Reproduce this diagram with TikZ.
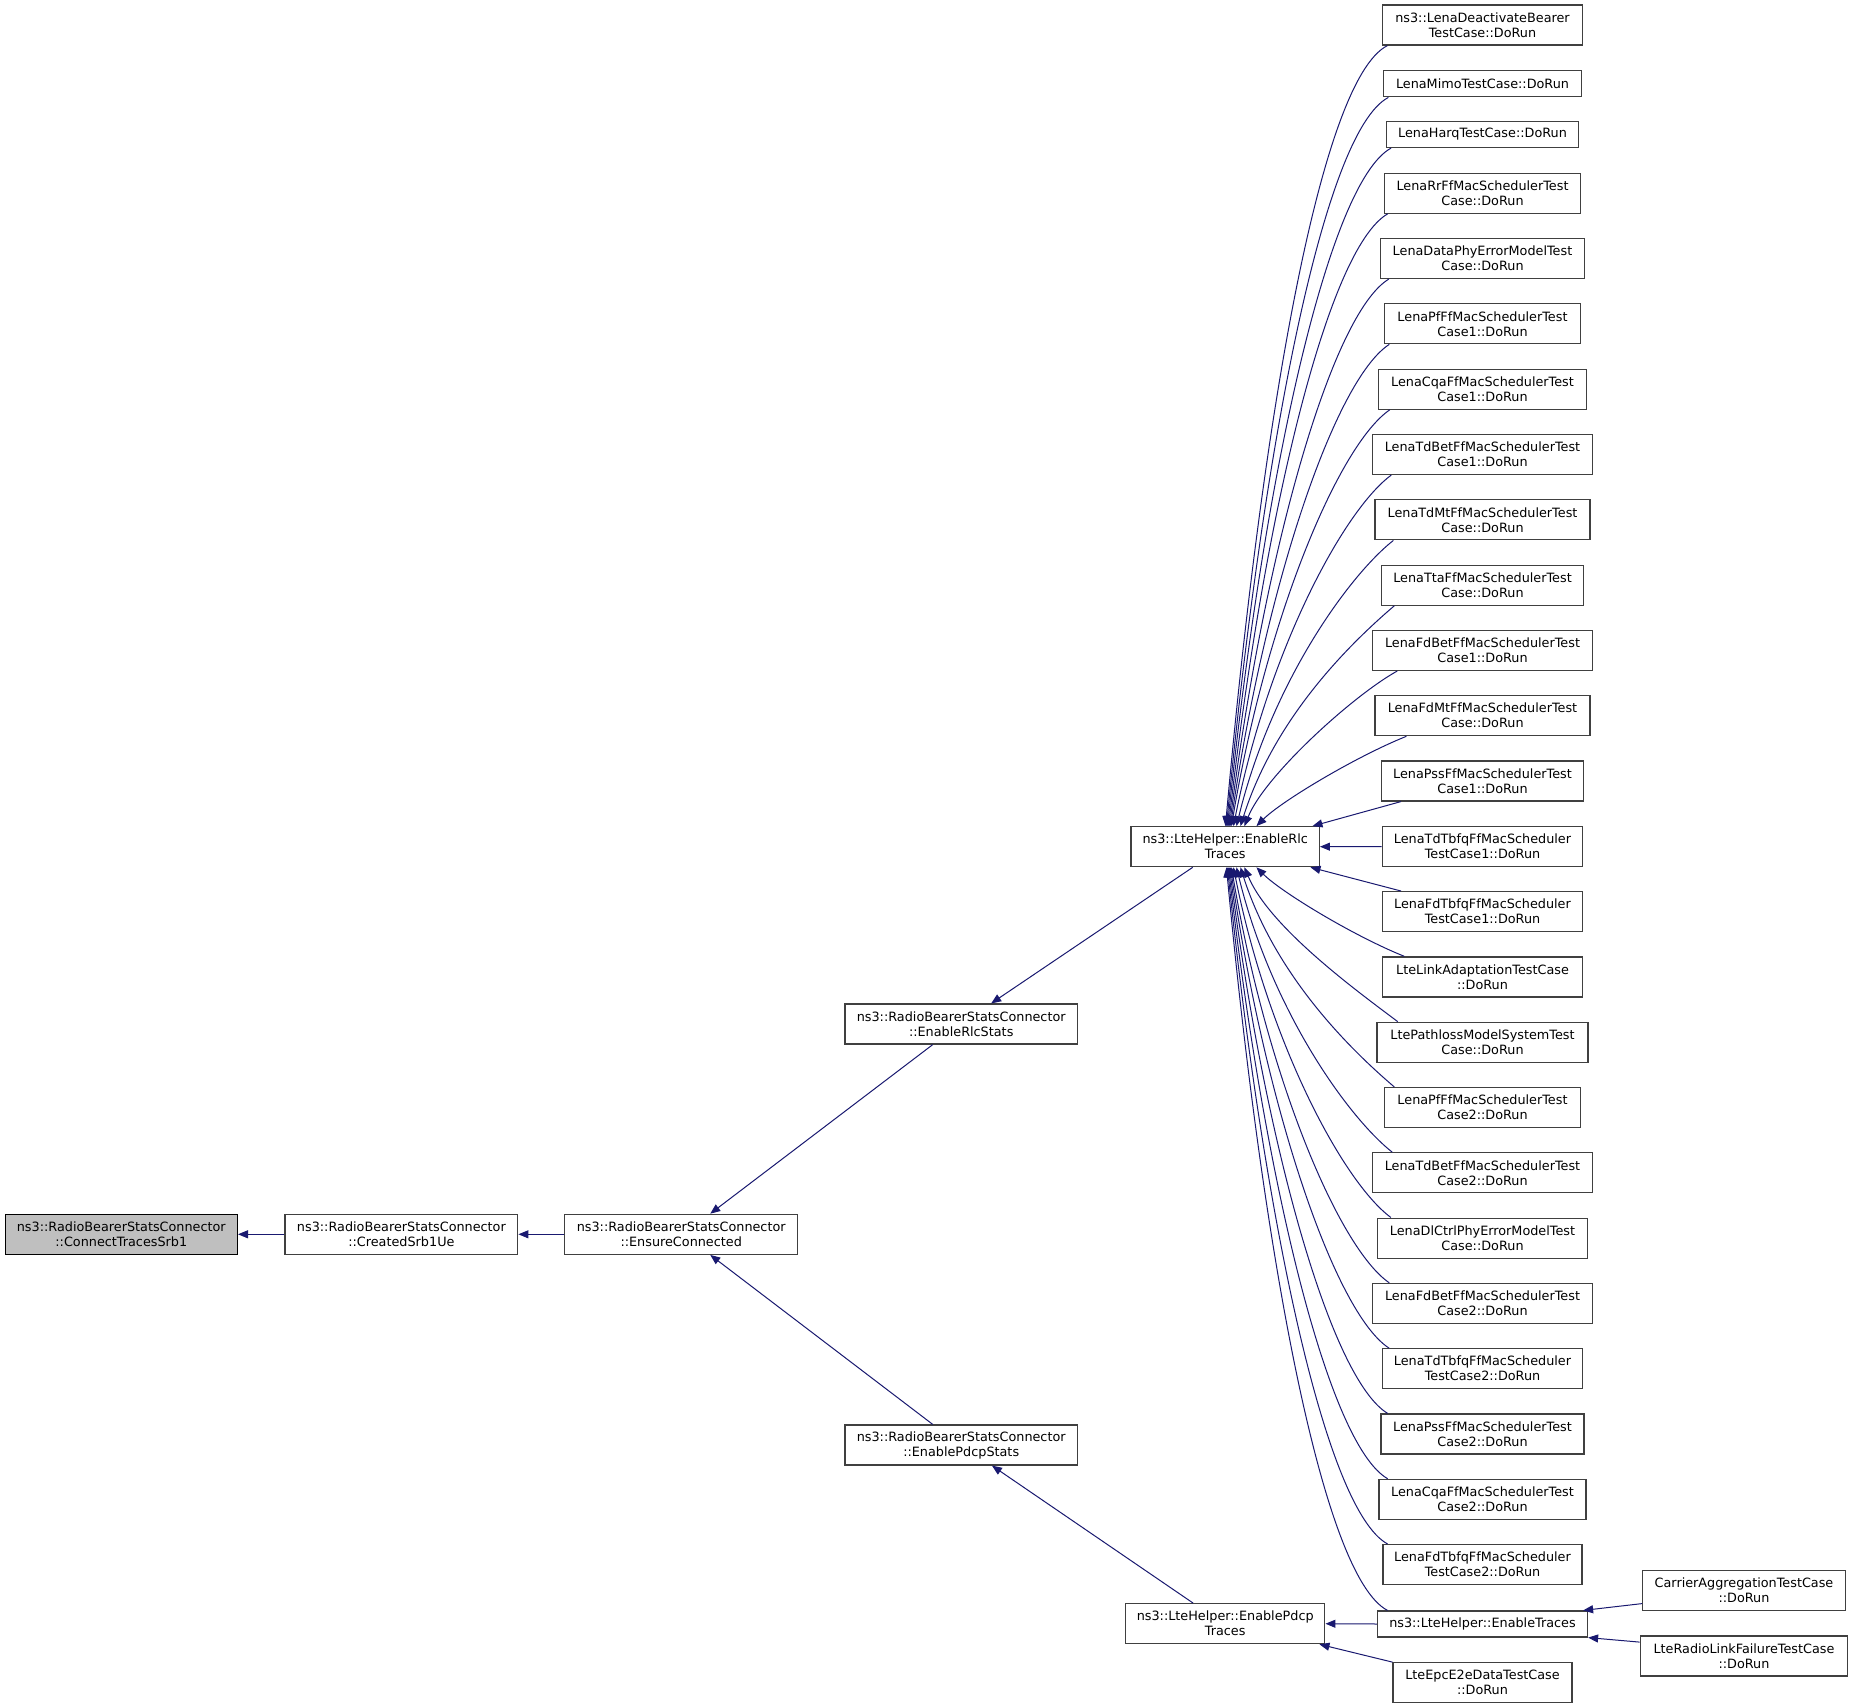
\documentclass[tikz,border=0pt]{standalone}
\usepackage{fontspec}
\setmainfont{DejaVu Sans}
\usetikzlibrary{arrows.meta,calc}
\definecolor{edgeblue}{RGB}{25,25,112}
\definecolor{boxline}{RGB}{64,64,64}
\definecolor{rootgray}{RGB}{191,191,191}
\newcommand\ucurve[5]{\draw[edge] ($(#1.south west)+(#2,0)$) .. controls +(-#3,35) and +(35,-#4) .. ($(rlc.north west)+(#5,0)$);}
\newcommand\lcurve[5]{\draw[edge] ($(#1.north west)+(#2,0)$) .. controls +(-#3,-35) and +(35,#4) .. ($(rlc.south west)+(#5,0)$);}
\begin{document}
\begin{tikzpicture}[x=0.75pt,y=-0.75pt,
  box/.style={draw=boxline, line width=0.9pt, fill=white, align=center, inner sep=0pt,
    minimum height=30pt, font=\fontsize{9.6}{11.25}\selectfont},
  sbox/.style={box, minimum height=19.5pt},
  bw/.style={minimum width=#1*0.75pt},
  edge/.style={draw=edgeblue, line width=0.75pt, -{Triangle[length=7.5pt,width=6pt]}},
]
\useasboundingbox[fill=white] (0,0) rectangle (1853,1708);

% left part
\node[box,bw=232.2,fill=rootgray,draw=black] (connect) at (121.3,1234.3) {ns3::RadioBearerStatsConnector\\::ConnectTracesSrb1};
\node[box,bw=232.8] (created) at (401.4,1234.3) {ns3::RadioBearerStatsConnector\\::CreatedSrb1Ue};
\node[box,bw=232.7] (ensure) at (681.2,1234.3) {ns3::RadioBearerStatsConnector\\::EnsureConnected};
\node[box,bw=232.3] (rlcstats) at (961.2,1024) {ns3::RadioBearerStatsConnector\\::EnableRlcStats};
\node[box,bw=232.3] (pdcpstats) at (961.2,1445) {ns3::RadioBearerStatsConnector\\::EnablePdcpStats};
\node[box,bw=188.3] (rlc) at (1225.2,846.7) {ns3::LteHelper::EnableRlc\\Traces};
\node[box,bw=199.3] (pdcp) at (1225.2,1623.7) {ns3::LteHelper::EnablePdcp\\Traces};
\node[sbox,bw=210] (et) at (1482.5,1624) {ns3::LteHelper::EnableTraces};
\node[box,bw=179] (epc) at (1482.5,1682.7) {LteEpcE2eDataTestCase\\::DoRun};
\node[box,bw=202.7] (ca) at (1744,1590.7) {CarrierAggregationTestCase\\::DoRun};
\node[box,bw=207.5] (rlf) at (1744,1656) {LteRadioLinkFailureTestCase\\::DoRun};

% right column
\node[box,bw=199.6] (deact) at (1482.5,25) {ns3::LenaDeactivateBearer\\TestCase::DoRun};
\node[sbox,bw=198.4] (mimo) at (1482.5,83.8) {LenaMimoTestCase::DoRun};
\node[sbox,bw=192.7] (harq) at (1482.5,134.5) {LenaHarqTestCase::DoRun};
\node[box,bw=195.3] (rr) at (1482.5,193.2) {LenaRrFfMacSchedulerTest\\Case::DoRun};
\node[box,bw=204.7] (dataphy) at (1482.5,258.5) {LenaDataPhyErrorModelTest\\Case::DoRun};
\node[box,bw=195.3] (pfa) at (1482.5,323.8) {LenaPfFfMacSchedulerTest\\Case1::DoRun};
\node[box,bw=207.3] (cqaa) at (1482.5,389.2) {LenaCqaFfMacSchedulerTest\\Case1::DoRun};
\node[box,bw=219.3] (tdbeta) at (1482.5,454.5) {LenaTdBetFfMacSchedulerTest\\Case1::DoRun};
\node[box,bw=215] (tdmt) at (1482.5,519.8) {LenaTdMtFfMacSchedulerTest\\Case::DoRun};
\node[box,bw=202] (tta) at (1482.5,585.1) {LenaTtaFfMacSchedulerTest\\Case::DoRun};
\node[box,bw=219.3] (fdbeta) at (1482.5,650.4) {LenaFdBetFfMacSchedulerTest\\Case1::DoRun};
\node[box,bw=215] (fdmt) at (1482.5,715.7) {LenaFdMtFfMacSchedulerTest\\Case::DoRun};
\node[box,bw=202] (pssa) at (1482.5,781) {LenaPssFfMacSchedulerTest\\Case1::DoRun};
\node[box,bw=200.4] (tdtbfqa) at (1482.5,846.5) {LenaTdTbfqFfMacScheduler\\TestCase1::DoRun};
\node[box,bw=199.3] (fdtbfqa) at (1482.5,911.6) {LenaFdTbfqFfMacScheduler\\TestCase1::DoRun};
\node[box,bw=199.3] (linkad) at (1482.5,976.9) {LteLinkAdaptationTestCase\\::DoRun};
\node[box,bw=211] (pathloss) at (1482.5,1042.2) {LtePathlossModelSystemTest\\Case::DoRun};
\node[box,bw=195.3] (pfb) at (1482.5,1107.5) {LenaPfFfMacSchedulerTest\\Case2::DoRun};
\node[box,bw=219.3] (tdbetb) at (1482.5,1172.8) {LenaTdBetFfMacSchedulerTest\\Case2::DoRun};
\node[box,bw=210] (dlctrl) at (1482.5,1238.1) {LenaDlCtrlPhyErrorModelTest\\Case::DoRun};
\node[box,bw=219.3] (fdbetb) at (1482.5,1303.4) {LenaFdBetFfMacSchedulerTest\\Case2::DoRun};
\node[box,bw=200.4] (tdtbfqb) at (1482.5,1368.7) {LenaTdTbfqFfMacScheduler\\TestCase2::DoRun};
\node[box,bw=203] (pssb) at (1482.5,1434) {LenaPssFfMacSchedulerTest\\Case2::DoRun};
\node[box,bw=207] (cqab) at (1482.5,1499.3) {LenaCqaFfMacSchedulerTest\\Case2::DoRun};
\node[box,bw=199] (fdtbfqb) at (1482.5,1564.6) {LenaFdTbfqFfMacScheduler\\TestCase2::DoRun};

% left edges
\draw[edge] (created.west) -- (connect.east);
\draw[edge] (ensure.west) -- (created.west -| created.east) ;
\draw[edge] ($(rlcstats.south west)+(88.3,0)$) -- ($(ensure.north west)+(146,0)$);
\draw[edge] ($(pdcpstats.north west)+(88.3,0)$) -- ($(ensure.south west)+(146,0)$);
\draw[edge] ($(rlc.south west)+(62.3,0)$) -- ($(rlcstats.north west)+(146.7,0)$);
\draw[edge] ($(pdcp.north west)+(68.2,0)$) -- ($(pdcpstats.south west)+(147.5,0)$);
\draw[edge] (et.west) -- (pdcp.east);
\draw[edge] (epc.north west) -- ($(pdcp.south east)+(-6,0)$);
\draw[edge] ($(ca.south west)+(0,-7.7)$) -- ($(et.north east)+(-5,0)$);
\draw[edge] ($(rlf.north west)+(0,6.7)$) -- (et.south east);

% upper curves into EnableRlcTraces
\ucurve{deact}{5.3}{69}{391}{95}
\ucurve{mimo}{5.7}{66.5}{365}{96}
\ucurve{harq}{5.5}{64}{340}{97}
\ucurve{rr}{3.5}{60.7}{307}{98}
\ucurve{dataphy}{9.2}{57.4}{274}{99}
\ucurve{pfa}{5}{54}{241.5}{100}
\ucurve{cqaa}{11.5}{51}{209}{101}
\ucurve{tdbeta}{19}{47.6}{176}{103}
\ucurve{tdmt}{19}{44.4}{143.5}{106}
\ucurve{tta}{13.5}{41}{111}{110}
\draw[edge] ($(fdbeta.south west)+(25,0)$) .. controls +(-45,25) and +(20,-50) .. ($(rlc.north west)+(114,0)$);
\draw[edge] ($(fdmt.south west)+(32,0)$) .. controls +(-50,20) and +(25,-25) .. ($(rlc.north west)+(126,0)$);
\draw[edge] ($(pssa.south west)+(20,0)$) -- ($(rlc.north west)+(182,0)$);
\draw[edge] (tdtbfqa.west) -- (rlc.east);

% lower curves into EnableRlcTraces
\draw[edge] ($(fdtbfqa.north west)+(18.7,0)$) -- ($(rlc.south west)+(180,0)$);
\draw[edge] ($(linkad.north west)+(22,0)$) .. controls +(-50,-20) and +(25,25) .. ($(rlc.south west)+(126,0)$);
\draw[edge] ($(pathloss.north west)+(21.3,0)$) .. controls +(-40,-30) and +(25,60) .. ($(rlc.south west)+(114,0)$);
\lcurve{pfb}{10}{41}{110}{110}
\lcurve{tdbetb}{20}{44.3}{143}{106}
\lcurve{dlctrl}{14}{47.5}{175.5}{103}
\lcurve{fdbetb}{17}{51}{208}{101}
\lcurve{tdtbfqb}{7.3}{54}{241}{100}
\lcurve{pssb}{7.2}{57.4}{273.5}{99}
\lcurve{cqab}{9.2}{60.6}{306}{98}
\lcurve{fdtbfqb}{5.2}{64}{339}{97}
\lcurve{et}{10.6}{67}{372.5}{96}
\end{tikzpicture}
\end{document}
